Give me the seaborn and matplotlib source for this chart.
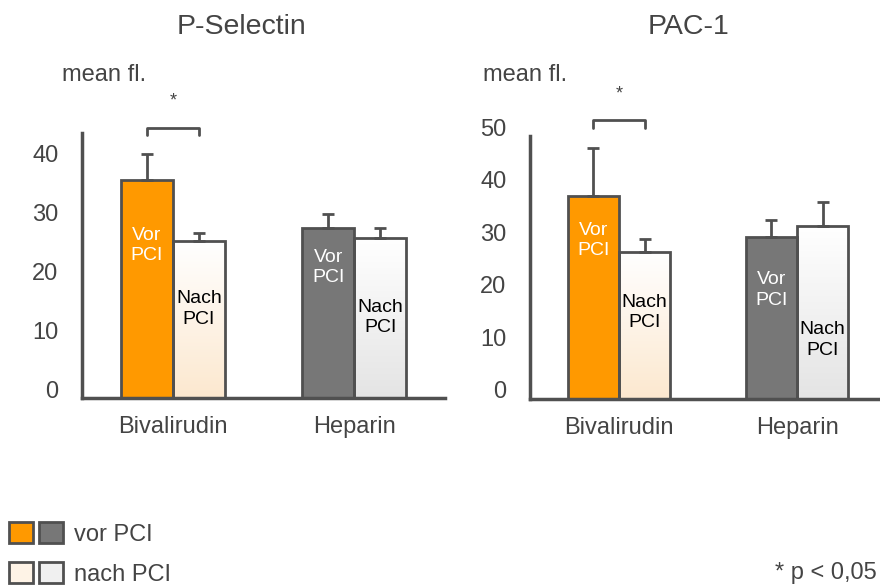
import numpy as np
import pandas as pd
import matplotlib
matplotlib.use("Agg")
import matplotlib.pyplot as plt
import matplotlib.transforms as mtransforms
from matplotlib.colors import LinearSegmentedColormap
from matplotlib.patches import Patch
from matplotlib.legend_handler import HandlerTuple
import seaborn as sns

# --- data ---
gruppen = ["Bivalirudin", "Heparin"]
zeit = ["Vor", "Nach"]

psel_vor = [37.1, 28.8]
psel_nach = [26.6, 27.1]
psel_vor_err = [4.4, 2.4]
psel_nach_err = [1.4, 1.7]

pac_vor = [38.6, 30.8]
pac_nach = [27.9, 32.9]
pac_vor_err = [9.1, 3.2]
pac_nach_err = [2.5, 4.5]

# --- styles ---
sns.set_style("white")
plt.rcParams['font.family'] = ['Liberation Sans', 'DejaVu Sans']
edge = "#505050"
txt = "#444444"
vor_cols = ["#FF9900", "#777777"]
nach_tints = ["#FCE8CF", "#E4E4E4"]

fig = plt.figure(figsize=(8.8, 5.87), dpi=100)
ax1 = fig.add_axes([82/880, 1 - 398/587, 363/880, 265/587])
ax2 = fig.add_axes([530/880, 1 - 399/587, 356/880, 263/587])


def panel(ax, vor, nach, vor_err, nach_err, ymax, vor_lab_y, nach_lab_y, brk_y, star_y):
    df = pd.DataFrame({"Gruppe": gruppen * 2,
                       "Zeit": [zeit[0]] * 2 + [zeit[1]] * 2,
                       "Wert": vor + nach})
    sns.barplot(data=df, x="Gruppe", y="Wert", hue="Zeit", order=gruppen,
                hue_order=zeit, width=0.574, errorbar=None, legend=False,
                edgecolor=edge, linewidth=2, saturation=1, ax=ax)
    vor_bars, nach_bars = ax.containers[0], ax.containers[1]
    grad = np.linspace(0, 1, 256).reshape(-1, 1)
    for i, bar in enumerate(vor_bars):
        bar.set_facecolor(vor_cols[i])
        cx = bar.get_x() + bar.get_width() / 2
        ax.errorbar(cx, bar.get_height(), yerr=[[0], [vor_err[i]]], fmt='none',
                    ecolor=edge, elinewidth=2, capsize=4, capthick=2)
        ax.text(cx, vor_lab_y[i], "Vor\nPCI", color="white", ha="center", va="center",
                fontsize=14, linespacing=1.25)
    for i, bar in enumerate(nach_bars):
        bar.set_facecolor('none')
        x0, w, h = bar.get_x(), bar.get_width(), bar.get_height()
        cmap = LinearSegmentedColormap.from_list("g", ["white", nach_tints[i]])
        ax.imshow(grad, extent=[x0, x0 + w, 0, h], origin='upper', cmap=cmap,
                  aspect='auto', zorder=0.8)
        cx = x0 + w / 2
        ax.errorbar(cx, h, yerr=[[0], [nach_err[i]]], fmt='none',
                    ecolor=edge, elinewidth=2, capsize=4, capthick=2)
        ax.text(cx, nach_lab_y[i], "Nach\nPCI", color="black", ha="center", va="center",
                fontsize=14, linespacing=1.25)

    # significance bracket
    xa = vor_bars[0].get_x() + vor_bars[0].get_width() / 2
    xb = nach_bars[0].get_x() + nach_bars[0].get_width() / 2
    ax.plot([xa, xa, xb, xb], [brk_y[0], brk_y[1], brk_y[1], brk_y[0]],
            color=edge, lw=2, clip_on=False, solid_joinstyle='round')
    ax.text((xa + xb) / 2, star_y, "*", ha="center", va="center", fontsize=13,
            color=txt, clip_on=False)

    ax.set_xlim(-0.5, 1.5)
    ax.set_ylim(0, ymax)
    ax.set_xlabel("")
    ax.set_ylabel("")
    for s in ["top", "right"]:
        ax.spines[s].set_visible(False)
    for s in ["left", "bottom"]:
        ax.spines[s].set_color(edge)
        ax.spines[s].set_linewidth(2.5)
    ax.set_xticks([-0.5, 0.5, 1.5])
    ax.set_xticklabels([])
    ax.set_xticks([0, 1], minor=True)
    ax.set_xticklabels(gruppen, minor=True)
    ax.tick_params(axis='x', which='major', length=4, width=2, color=edge, direction='out')
    ax.tick_params(axis='x', which='minor', length=0, pad=13, labelsize=17, labelcolor=txt)
    yt = list(range(0, ymax + 1, 10))
    ax.set_yticks(yt)
    ax.tick_params(axis='y', length=4, width=2, color=edge, direction='out', pad=13,
                   labelsize=17, labelcolor=txt)
    off = mtransforms.ScaledTranslation(0, 0.09, fig.dpi_scale_trans)
    for t in ax.yaxis.get_major_ticks():
        t.label1.set_transform(t.label1.get_transform() + off)


panel(ax1, psel_vor, psel_nach, psel_vor_err, psel_nach_err, 45,
      [25.9, 22.2], [15.1, 13.7], [44.6, 45.9], 50.5)
panel(ax2, pac_vor, pac_nach, pac_vor_err, pac_nach_err, 50,
      [30.2, 20.7], [16.5, 11.2], [51.5, 53.0], 58.0)

# titles and unit labels
fig.text(241/880, 1 - 27/587, "P-Selectin", ha="center", va="center", fontsize=20.5, color=txt)
fig.text(688/880, 1 - 27/587, "PAC-1", ha="center", va="center", fontsize=20.5, color=txt)
fig.text(62/880, 1 - 75/587, "mean fl.", ha="left", va="center", fontsize=17, color=txt)
fig.text(483/880, 1 - 75/587, "mean fl.", ha="left", va="center", fontsize=17, color=txt)
fig.text(877/880, 1 - 573/587, "* p < 0,05", ha="right", va="center", fontsize=17, color=txt)

# legend
h_vor = (Patch(facecolor=vor_cols[0], edgecolor=edge, lw=2),
         Patch(facecolor=vor_cols[1], edgecolor=edge, lw=2))
h_nach = (Patch(facecolor="#FEF3E6", edgecolor=edge, lw=2),
          Patch(facecolor="#F0F0F0", edgecolor=edge, lw=2))
fig.legend([h_vor, h_nach], ["vor PCI", "nach PCI"],
           handler_map={tuple: HandlerTuple(ndivide=None, pad=0.25)},
           loc="upper left", bbox_to_anchor=(9/880, 1 - 522/587),
           frameon=False, fontsize=17, labelcolor=txt, handlelength=2.3,
           handleheight=1.0, handletextpad=0.45, labelspacing=0.7,
           borderpad=0, borderaxespad=0)

fig.savefig("out.png", dpi=100)
